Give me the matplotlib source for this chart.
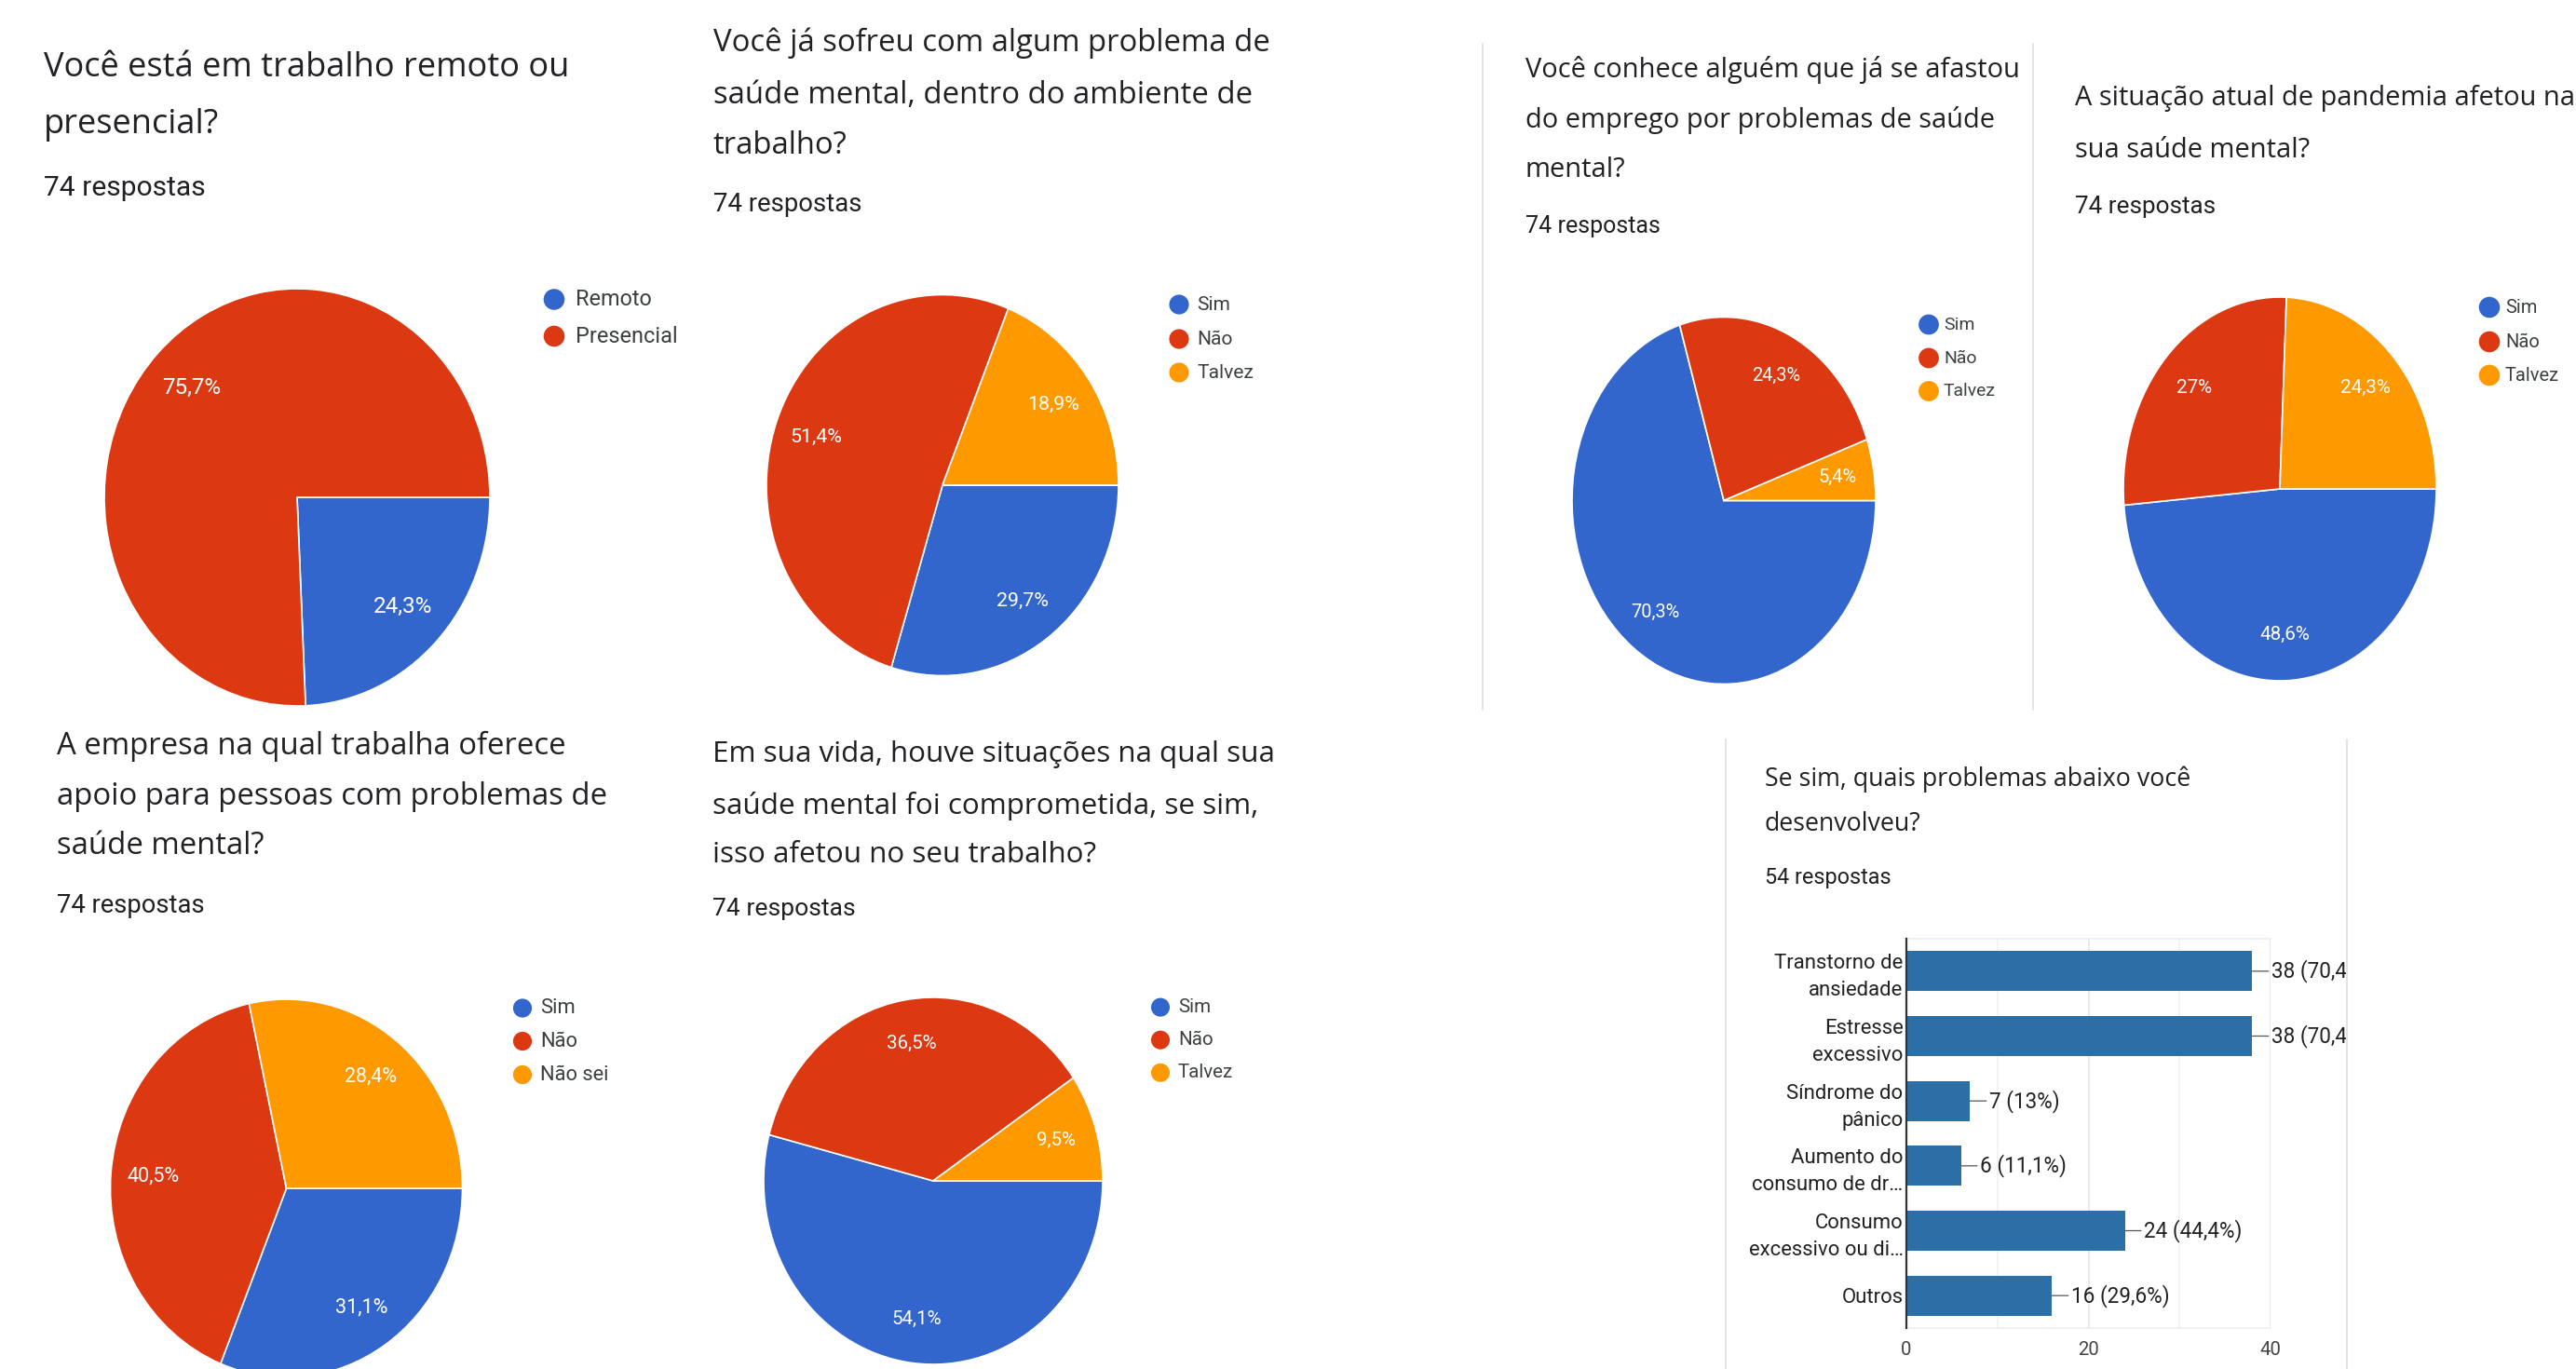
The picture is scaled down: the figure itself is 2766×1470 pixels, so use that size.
import numpy as np
import matplotlib.pyplot as plt
from matplotlib.transforms import Bbox, TransformedBbox

# ---- data: Google Forms summary screenshots ----
q1_title = ["Você está em trabalho remoto ou", "presencial?"]
q1_labels = ["Remoto", "Presencial"]
q1_values = [24.3, 75.7]

q2_title = ["Você já sofreu com algum problema de", "saúde mental, dentro do ambiente de", "trabalho?"]
q2_labels = ["Sim", "Não", "Talvez"]
q2_values = [29.7, 51.4, 18.9]

q3_title = ["Você conhece alguém que já se afastou", "do emprego por problemas de saúde", "mental?"]
q3_labels = ["Sim", "Não", "Talvez"]
q3_values = [70.3, 24.3, 5.4]

q4_title = ["A situação atual de pandemia afetou na", "sua saúde mental?"]
q4_labels = ["Sim", "Não", "Talvez"]
q4_values = [48.6, 27.0, 24.3]

q5_title = ["A empresa na qual trabalha oferece", "apoio para pessoas com problemas de", "saúde mental?"]
q5_labels = ["Sim", "Não", "Não sei"]
q5_values = [31.1, 40.5, 28.4]

q6_title = ["Em sua vida, houve situações na qual sua", "saúde mental foi comprometida, se sim,", "isso afetou no seu trabalho?"]
q6_labels = ["Sim", "Não", "Talvez"]
q6_values = [54.1, 36.5, 9.5]

pie_responses = 74

bar_title = ["Se sim, quais problemas abaixo você", "desenvolveu?"]
bar_responses = 54
bar_labels = ["Transtorno de\nansiedade", "Estresse\nexcessivo", "Síndrome do\npânico",
              "Aumento do\nconsumo de dr…", "Consumo\nexcessivo ou di…", "Outros"]
bar_counts = [38, 38, 7, 6, 24, 16]
bar_ticks = [0, 20, 40]

# ---- style ----
W, H = 2766, 1470
pie_colors = ["#3366cc", "#dc3912", "#ff9900"]
bar_color = "#2c6fa6"
title_font = "Open Sans"
body_font = "Roboto"
dark = "#202124"
border = "#dadce0"


def fmt_pct(v):
    s = f"{v:.1f}".replace(".", ",")
    if s.endswith(",0"):
        s = s[:-2]
    return s + "%"


fig = plt.figure(figsize=(W / 100, H / 100), dpi=100)
fig.patch.set_facecolor("white")
renderer = fig.canvas.get_renderer()


def fit(s, width, family):
    t = fig.text(0, 0, s, fontsize=20, family=family)
    w = t.get_window_extent(renderer).width
    t.remove()
    return 20 * width / w


# overlay in pixel coords (y down) for titles, legends and card borders
ov = fig.add_axes([0, 0, 1, 1], zorder=5)
ov.set_xlim(0, W)
ov.set_ylim(H, 0)
ov.axis("off")

for x, y0, y1 in [(1592, 47, 762), (2183, 47, 762), (1853, 794, 1470), (2520, 794, 1470)]:
    ov.plot([x, x], [y0, y1], color=border, lw=1.1)

# layout of each screenshot (pixels); k = vertical stretch of the screenshot
panels = [
    dict(title=q1_title, labels=q1_labels, values=q1_values, k=1.08,
         tx=47, ty=[73, 134], sy=202, tfit=0, tw=562, sw=167,
         cx=319, cy=534, rx=207, ry=224, bottom=745,
         lx=595, ly=[321.5, 361], ltx=618, lw=105, pw=61),
    dict(title=q2_title, labels=q2_labels, values=q2_values, k=1.08,
         tx=766, ty=[46, 102, 156], sy=219, tfit=0, tw=597, sw=153,
         cx=1012, cy=521, rx=189, ry=204.5, bottom=None,
         lx=1266, ly=[327, 364, 400], ltx=1285, lw=58.6, pw=54),
    dict(title=q3_title, labels=q3_labels, values=q3_values, k=1.21,
         tx=1638, ty=[75, 129, 182.5], sy=242.5, tfit=0, tw=528, sw=131,
         cx=1851, cy=537.5, rx=163, ry=197, bottom=None,
         lx=2071, ly=[348.5, 384.5, 420], ltx=2087, lw=51, pw=47.6),
    dict(title=q4_title, labels=q4_labels, values=q4_values, k=1.23,
         tx=2228, ty=[105, 161], sy=222, tfit=0, tw=535, sw=136,
         cx=2448, cy=525, rx=168, ry=206, bottom=None,
         lx=2673, ly=[330, 367, 403], ltx=2690, lw=52.5, pw=48.6),
    dict(title=q5_title, labels=q5_labels, values=q5_values, k=1.07,
         tx=61, ty=[801, 855, 908.5], sy=972.6, tfit=1, tw=591, sw=153,
         cx=307.5, cy=1276, rx=189, ry=203, bottom=H,
         lx=561, ly=[1082.5, 1118, 1154], ltx=580, lw=71, pw=54.5),
    dict(title=q6_title, labels=q6_labels, values=q6_values, k=1.08,
         tx=765, ty=[810, 865, 918], sy=976, tfit=0, tw=602, sw=147,
         cx=1002, cy=1268, rx=182, ry=197, bottom=None,
         lx=1246, ly=[1081.6, 1116.7, 1151.8], ltx=1265, lw=57, pw=51.6),
]

sub_text = f"{pie_responses} respostas"
for p in panels:
    g = np.sqrt(p["k"])
    tsize = fit(p["title"][p["tfit"]], p["tw"], title_font)
    ssize = fit(sub_text, p["sw"], body_font) * g
    for line, y in zip(p["title"], p["ty"]):
        ov.text(p["tx"], y, line, fontsize=tsize, family=title_font,
                color=dark, ha="left", va="center")
    ov.text(p["tx"], p["sy"], sub_text, fontsize=ssize, family=body_font,
            color=dark, ha="left", va="center")

    # legend
    lsize = fit(p["labels"][-1], p["lw"], body_font) * g
    step = p["ly"][1] - p["ly"][0]
    dot = 0.55 * step * 0.72 * g
    for lab, y, c in zip(p["labels"], p["ly"], pie_colors):
        ov.scatter([p["lx"]], [y], s=dot ** 2, color=c, edgecolors="none")
        ov.text(p["ltx"], y, lab, fontsize=lsize, family=body_font,
                color="#3c4043", ha="left", va="center")

    # pie
    bottom = p["bottom"] if p["bottom"] is not None else p["cy"] + p["ry"]
    x0, x1 = p["cx"] - p["rx"], p["cx"] + p["rx"]
    y0, y1 = p["cy"] - p["ry"], min(p["cy"] + p["ry"], bottom)
    ax = fig.add_axes([x0 / W, 1 - y1 / H, (x1 - x0) / W, (y1 - y0) / H])
    psize = fit("00,0%", p["pw"], body_font) * g
    ax.pie(p["values"], colors=pie_colors[:len(p["values"])],
           labels=[fmt_pct(v) for v in p["values"]], labeldistance=0.76,
           startangle=0, counterclock=False,
           wedgeprops=dict(edgecolor="white", linewidth=1.2),
           textprops=dict(color="white", ha="center", va="center",
                          fontsize=psize, family=body_font))
    ax.set_aspect("auto")
    ax.set_xlim(-1, 1)
    ax.set_ylim(-(y1 - p["cy"]) / p["ry"], 1)

# ---- bar chart card ----
bk = 1.2
bt_size = fit(bar_title[0], 455, title_font)
for line, y in zip(bar_title, [836.5, 885]):
    ov.text(1895, y, line, fontsize=bt_size, family=title_font, color=dark,
            ha="left", va="center")
bar_sub = f"{bar_responses} respostas"
ov.text(1895, 942, bar_sub, fontsize=fit(bar_sub, 123, body_font) * 1.1,
        family=body_font, color=dark, ha="left", va="center")

bx0, bx1, by0, by1 = 2047, 2438, 1008, 1426
bx = fig.add_axes([bx0 / W, 1 - by1 / H, (bx1 - bx0) / W, (by1 - by0) / H])
yy = np.arange(len(bar_counts))
bx.barh(yy, bar_counts, height=0.62, color=bar_color, zorder=3)
bx.set_xlim(bar_ticks[0], bar_ticks[-1])
bx.set_ylim(len(bar_counts) - 0.5, -0.5)
bx.set_xticks(bar_ticks)
bx.set_xticks([10, 30], minor=True)
bx.grid(axis="x", which="major", color="#e3e3e3", lw=1.1, zorder=0)
bx.grid(axis="x", which="minor", color="#f0f0f0", lw=1.1, zorder=0)
for s in ["top", "bottom"]:
    bx.spines[s].set_color("#ececec")
    bx.spines[s].set_linewidth(1.1)
bx.spines["right"].set_visible(False)
bx.spines["left"].set_color("#333333")
bx.spines["left"].set_linewidth(1.6)
bx.spines["left"].set_zorder(4)

cat_size = fit("Transtorno de", 115, body_font) * bk
tick_size = fit("20", 19, body_font) * bk
val_size = fit("7 (13%)", 63, body_font) * bk

bx.set_yticks(yy, bar_labels)
bx.tick_params(axis="y", length=0, pad=2.5, labelsize=cat_size, labelcolor="#222222")
bx.tick_params(axis="x", which="both", length=0, pad=10, labelsize=tick_size,
               labelcolor="#444444")
for t in bx.get_yticklabels():
    t.set_family(body_font)
    t.set_linespacing(1.4 * 28.5 / (cat_size * 100 / 72 * 1.2))
for t in bx.get_xticklabels():
    t.set_family(body_font)

clip = TransformedBbox(Bbox([[0, 0], [2519 / W, 1]]), fig.transFigure)
for yi, c in zip(yy, bar_counts):
    pct = fmt_pct(c / bar_responses * 100)
    a = bx.annotate(f"{c} ({pct})", xy=(c, yi), xytext=(14.5, 0),
                    textcoords="offset points", ha="left", va="center",
                    fontsize=val_size, family=body_font, color="#222222",
                    arrowprops=dict(arrowstyle="-", color="#555555", lw=0.9,
                                    shrinkA=0, shrinkB=0, relpos=(0, 0.5)))
    a.set_clip_box(clip)
    a.set_clip_on(True)

fig.savefig("out.png", dpi=100)
